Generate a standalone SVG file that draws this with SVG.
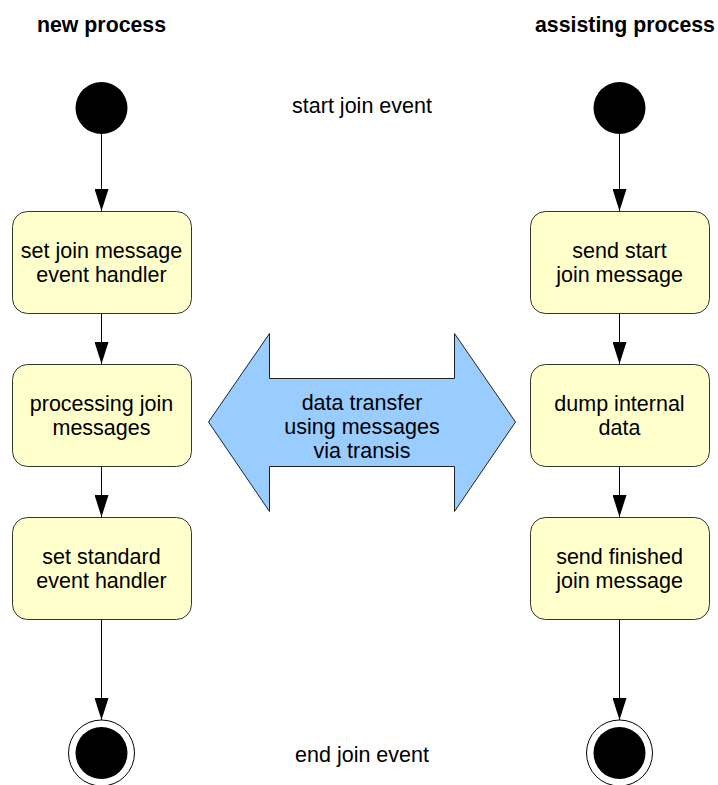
<svg xmlns="http://www.w3.org/2000/svg" width="718" height="785" viewBox="0 0 718 785">
  <defs>
    <marker id="arrow" markerUnits="userSpaceOnUse" markerWidth="22" markerHeight="14" refX="22" refY="7" orient="auto" viewBox="0 0 22 14">
      <path d="M0,0 L22,7 L0,14 Z" fill="#000"/>
    </marker>
  </defs>
  <style>
    .title { font-family: "Liberation Sans", Arial, sans-serif; font-size: 21.3px; font-weight: bold; fill: #000; }
    .label { font-family: "Liberation Sans", Arial, sans-serif; font-size: 21.5px; fill: #000; text-anchor: middle; }
    .action { fill: #ffffcc; stroke: #333; stroke-width: 1; }
    .flow { stroke: #000; stroke-width: 1; fill: none; marker-end: url(#arrow); }
    .dot { fill: #000; }
    .ring { fill: #fff; stroke: #000; stroke-width: 1; }
  </style>
  <rect width="718" height="785" fill="#fff"/>

  <text class="title" x="37" y="32">new process</text>
  <text class="title" x="535" y="32">assisting process</text>
  <text class="label" x="362" y="113">start join event</text>
  <text class="label" x="362" y="762">end join event</text>

  <g id="connectors">
    <line class="flow" x1="101.5" y1="134" x2="101.5" y2="211"/>
    <line class="flow" x1="101.5" y1="313" x2="101.5" y2="364"/>
    <line class="flow" x1="101.5" y1="466" x2="101.5" y2="517"/>
    <line class="flow" x1="101.5" y1="619" x2="101.5" y2="720"/>
    <line class="flow" x1="619.5" y1="134" x2="619.5" y2="211"/>
    <line class="flow" x1="619.5" y1="313" x2="619.5" y2="364"/>
    <line class="flow" x1="619.5" y1="466" x2="619.5" y2="517"/>
    <line class="flow" x1="619.5" y1="619" x2="619.5" y2="720"/>
  </g>

  <g id="start-new">
    <circle class="dot" cx="101.5" cy="108" r="26"/>
  </g>
  <g id="start-assist">
    <circle class="dot" cx="619.5" cy="108" r="26"/>
  </g>

  <g id="set-join-handler">
    <rect class="action" x="12.5" y="211.5" width="179" height="102" rx="15" ry="15"/>
    <text class="label" x="101.5" y="258">set join message</text>
    <text class="label" x="101.5" y="282">event handler</text>
  </g>
  <g id="processing-join">
    <rect class="action" x="12.5" y="364.5" width="179" height="102" rx="15" ry="15"/>
    <text class="label" x="101.5" y="411">processing join</text>
    <text class="label" x="101.5" y="435">messages</text>
  </g>
  <g id="set-standard-handler">
    <rect class="action" x="12.5" y="517.5" width="179" height="102" rx="15" ry="15"/>
    <text class="label" x="101.5" y="564">set standard</text>
    <text class="label" x="101.5" y="588">event handler</text>
  </g>

  <g id="send-start">
    <rect class="action" x="530.5" y="211.5" width="179" height="102" rx="15" ry="15"/>
    <text class="label" x="619.5" y="258">send start</text>
    <text class="label" x="619.5" y="282">join message</text>
  </g>
  <g id="dump-data">
    <rect class="action" x="530.5" y="364.5" width="179" height="102" rx="15" ry="15"/>
    <text class="label" x="619.5" y="411">dump internal</text>
    <text class="label" x="619.5" y="435">data</text>
  </g>
  <g id="send-finished">
    <rect class="action" x="530.5" y="517.5" width="179" height="102" rx="15" ry="15"/>
    <text class="label" x="619.5" y="564">send finished</text>
    <text class="label" x="619.5" y="588">join message</text>
  </g>

  <g id="end-new">
    <circle class="ring" cx="101.5" cy="753" r="33"/>
    <circle class="dot" cx="101.5" cy="753" r="26"/>
  </g>
  <g id="end-assist">
    <circle class="ring" cx="619.5" cy="753" r="33"/>
    <circle class="dot" cx="619.5" cy="753" r="26"/>
  </g>

  <g id="data-transfer">
    <path d="M208.5,422 L269.5,333.5 L269.5,378.5 L454.5,378.5 L454.5,333.5 L515.5,422 L454.5,511.5 L454.5,466.5 L269.5,466.5 L269.5,511.5 Z" fill="#99ccff" stroke="#222" stroke-width="1"/>
    <text class="label" x="362" y="410">data transfer</text>
    <text class="label" x="362" y="434">using messages</text>
    <text class="label" x="362" y="458">via transis</text>
  </g>
</svg>
